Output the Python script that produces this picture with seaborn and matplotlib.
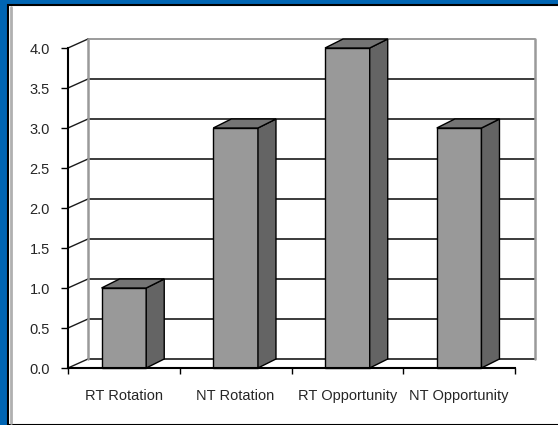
import matplotlib
matplotlib.use("Agg")
import matplotlib.pyplot as plt
from matplotlib.patches import Polygon, Rectangle
from matplotlib.lines import Line2D
import seaborn as sns
import pandas as pd

categories = ["RT Rotation", "NT Rotation", "RT Opportunity", "NT Opportunity"]
values = [1.0, 3.0, 4.0, 3.0]
y_ticks = [0.0, 0.5, 1.0, 1.5, 2.0, 2.5, 3.0, 3.5, 4.0]

df = pd.DataFrame({"group": categories, "score": values})

sns.set_style("white")
plt.rcParams["font.family"] = ["Liberation Sans", "DejaVu Sans"]

W, H = 558, 425
fig = plt.figure(figsize=(W / 100, H / 100), dpi=100)
fig.patch.set_facecolor("#0065B3")

# white slide panel with dark frame
fig.patches.append(Rectangle((8 / W, 0), 1 - 8 / W + 0.01, 1 - 5 / H,
                             transform=fig.transFigure, facecolor="white",
                             edgecolor="black", linewidth=1.5, zorder=-2))
fig.lines.append(Line2D([10.5 / W, 10.5 / W], [2 / H, 1 - 7 / H],
                        transform=fig.transFigure, color="#b0b0b0", linewidth=2,
                        zorder=-1))

# front plane of the plot
left, right, top, bottom = 68, 515, 48, 368
ax = fig.add_axes([left / W, 1 - bottom / H, (right - left) / W, (bottom - top) / H])
ax.set_facecolor("none")

sns.barplot(data=df, x="group", y="score", color="#999999", width=0.40,
            edgecolor="black", linewidth=1.0, saturation=1, ax=ax, zorder=3)

ax.set_xlim(-0.5, 3.5)
ax.set_ylim(0, 4)

# depth offsets (data units): 1 x-unit = 111.75 px, 1 y-unit = 80 px
px_x = (right - left) / 4.0
px_y = (bottom - top) / 4.0
wdx, wdy = 20 / px_x, 9 / px_y       # back wall
bdx, bdy = 18 / px_x, 9 / px_y       # bar depth

x0, x1 = -0.5, 3.5
# back wall grid and diagonal connectors
for yv in y_ticks:
    col = "#8a8a8a" if yv == 4.0 else "#1a1a1a"
    ax.plot([x0 + wdx, x1 + wdx], [yv + wdy, yv + wdy], color=col,
            linewidth=1.2, clip_on=False, zorder=1)
    ax.plot([x0, x0 + wdx], [yv, yv + wdy], color="#1a1a1a",
            linewidth=1.0, clip_on=False, zorder=1)
for xe in (x0 + wdx, x1 + wdx):
    ax.plot([xe, xe], [wdy, 4 + wdy], color="#9a9a9a", linewidth=1.8,
            clip_on=False, zorder=1)

# side and top faces of each bar
for p in ax.patches:
    bx, bw, bh = p.get_x(), p.get_width(), p.get_height()
    side = Polygon([(bx + bw, 0), (bx + bw + bdx, bdy), (bx + bw + bdx, bh + bdy), (bx + bw, bh)],
                   closed=True, facecolor="#646464", edgecolor="black",
                   linewidth=1.0, clip_on=False, zorder=3)
    topf = Polygon([(bx, bh), (bx + bdx, bh + bdy), (bx + bw + bdx, bh + bdy), (bx + bw, bh)],
                   closed=True, facecolor="#747474", edgecolor="black",
                   linewidth=1.0, clip_on=False, zorder=3)
    ax.add_patch(side)
    ax.add_patch(topf)
    p.set_clip_on(False)

for s in ("top", "right"):
    ax.spines[s].set_visible(False)
for s in ("left", "bottom"):
    ax.spines[s].set_color("black")
    ax.spines[s].set_linewidth(1.5)
    ax.spines[s].set_zorder(4)

ax.set_yticks(y_ticks)
ax.set_yticklabels([f"{v:.1f}" for v in y_ticks])
ax.tick_params(axis="y", direction="out", length=5, width=1, color="black",
               pad=8, labelsize=10.5, left=True)

# category separators as major ticks, names as minor labels
ax.set_xticks([-0.5, 0.5, 1.5, 2.5, 3.5])
ax.set_xticklabels([])
ax.set_xticks(range(len(categories)), minor=True)
ax.set_xticklabels(categories, minor=True)
ax.tick_params(axis="x", which="major", direction="out", length=4, width=1,
               color="black", bottom=True)
ax.tick_params(axis="x", which="minor", length=0, pad=15, labelsize=10.5)

ax.set_xlabel("")
ax.set_ylabel("")
ax.grid(False)

fig.savefig("out.png", dpi=100, facecolor=fig.get_facecolor())
